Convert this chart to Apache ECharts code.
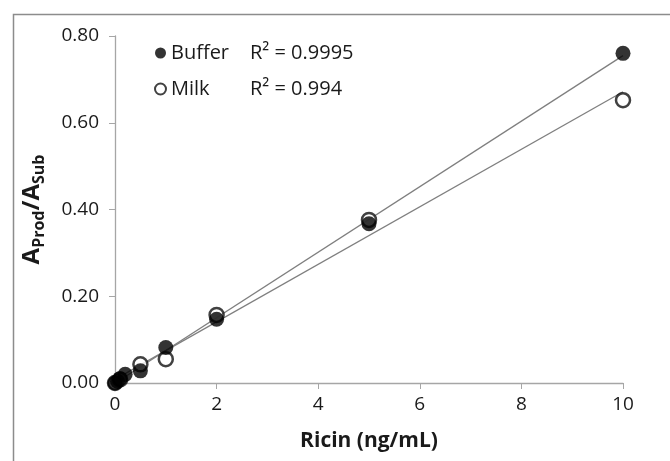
<!DOCTYPE html>
<html>
<head>
<meta charset="utf-8">
<script src="https://cdn.jsdelivr.net/npm/echarts@6/dist/echarts.min.js"></script>
<style>
html,body{margin:0;padding:0;background:#fff;}
#chart{width:670px;height:461px;}
</style>
</head>
<body>
<div id="chart"></div>
<script>
// Data
const bufferX = [0, 0.05, 0.1, 0.2, 0.5, 1, 2, 5, 10];
const bufferY = [0, 0.004, 0.01, 0.02, 0.028, 0.082, 0.147, 0.367, 0.760];
const milkX = [0, 0.1, 0.5, 1, 2, 5, 10];
const milkY = [0, 0.008, 0.043, 0.055, 0.157, 0.376, 0.652];
const seriesNames = ['Buffer', 'Milk'];
const r2Labels = ['R\u00B2 = 0.9995', 'R\u00B2 = 0.994'];
const xTicks = [0, 2, 4, 6, 8, 10];
const yTicks = [0, 0.2, 0.4, 0.6, 0.8];

function pairs(xs, ys) { return xs.map((x, i) => [x, ys[i]]); }
function linFit(xs, ys) {
  const n = xs.length;
  const mx = xs.reduce((a, b) => a + b, 0) / n;
  const my = ys.reduce((a, b) => a + b, 0) / n;
  let sxy = 0, sxx = 0;
  for (let i = 0; i < n; i++) { sxy += (xs[i] - mx) * (ys[i] - my); sxx += (xs[i] - mx) * (xs[i] - mx); }
  const m = sxy / sxx, b = my - m * mx;
  const x0 = Math.min(...xs), x1 = Math.max(...xs);
  return [[x0, m * x0 + b], [x1, m * x1 + b]];
}

const font = 'Open Sans';
const chart = echarts.init(document.getElementById('chart'), null, {renderer: 'canvas'});
const legendRich = {
  n: {fontFamily: font, fontSize: 20, color: '#1a1a1a', width: 79},
  r: {fontFamily: font, fontSize: 20, color: '#1a1a1a'}
};
chart.setOption({
  backgroundColor: '#fff',
  animation: false,
  graphic: [{
    type: 'rect', left: 11, top: 12, silent: true,
    shape: {width: 700, height: 500},
    style: {fill: 'none', stroke: '#8c8c8c', lineWidth: 1.5}
  }],
  grid: {left: 115, right: 47, top: 36, bottom: 78},
  legend: {
    data: seriesNames,
    orient: 'vertical',
    left: 149, top: 38,
    itemWidth: 11, itemHeight: 11, itemGap: 16,
    icon: 'circle',
    formatter: name => '{n|' + name + '}{r|' + r2Labels[seriesNames.indexOf(name)] + '}',
    textStyle: {rich: legendRich, padding: [0, 0, 0, 0]}
  },
  xAxis: {
    type: 'value', min: xTicks[0], max: xTicks[xTicks.length - 1], interval: 2,
    name: 'Ricin (ng/mL)', nameLocation: 'middle', nameGap: 48,
    nameTextStyle: {fontFamily: font, fontSize: 21, fontWeight: 'bold', color: '#1a1a1a'},
    axisLine: {lineStyle: {color: '#a6a6a6', width: 1.3}},
    axisTick: {show: true, inside: false, length: 6, lineStyle: {color: '#a6a6a6'}},
    axisLabel: {fontFamily: font, fontSize: 19, color: '#1a1a1a', margin: 12},
    splitLine: {show: false}
  },
  yAxis: {
    type: 'value', min: yTicks[0], max: yTicks[yTicks.length - 1], interval: 0.2,
    name: '{a|A}{s|Prod}{a|/A}{s|Sub}', nameLocation: 'middle', nameGap: 68, nameRotate: 90,
    nameTextStyle: {
      padding: [0, 0, 0, 0],
      rich: {
        a: {fontFamily: font, fontSize: 24, fontWeight: 'bold', color: '#1a1a1a', lineHeight: 30},
        s: {fontFamily: font, fontSize: 16, fontWeight: 'bold', color: '#1a1a1a', lineHeight: 16, verticalAlign: 'bottom'}
      }
    },
    axisLine: {show: true, lineStyle: {color: '#a6a6a6', width: 1.3}},
    axisTick: {show: true, inside: false, length: 6, lineStyle: {color: '#a6a6a6'}},
    axisLabel: {fontFamily: font, fontSize: 19, color: '#1a1a1a', margin: 16, formatter: v => v.toFixed(2)},
    splitLine: {show: false}
  },
  series: [
    {
      name: 'Milk fit', type: 'line', data: linFit(milkX, milkY), showSymbol: false, silent: true,
      lineStyle: {color: '#7f7f7f', width: 1.3}, z: 1
    },
    {
      name: 'Buffer fit', type: 'line', data: linFit(bufferX, bufferY), showSymbol: false, silent: true,
      lineStyle: {color: '#7f7f7f', width: 1.3}, z: 1
    },
    {
      name: 'Milk', type: 'scatter', data: pairs(milkX, milkY), symbol: 'circle', symbolSize: 14,
      itemStyle: {color: '#ffffff', borderColor: '#111', borderWidth: 2.5}, z: 3
    },
    {
      name: 'Buffer', type: 'scatter', data: pairs(bufferX, bufferY), symbol: 'circle', symbolSize: 15,
      itemStyle: {color: '#000', borderColor: '#000', borderWidth: 0}, z: 4
    }
  ]
});
</script>
</body>
</html>
